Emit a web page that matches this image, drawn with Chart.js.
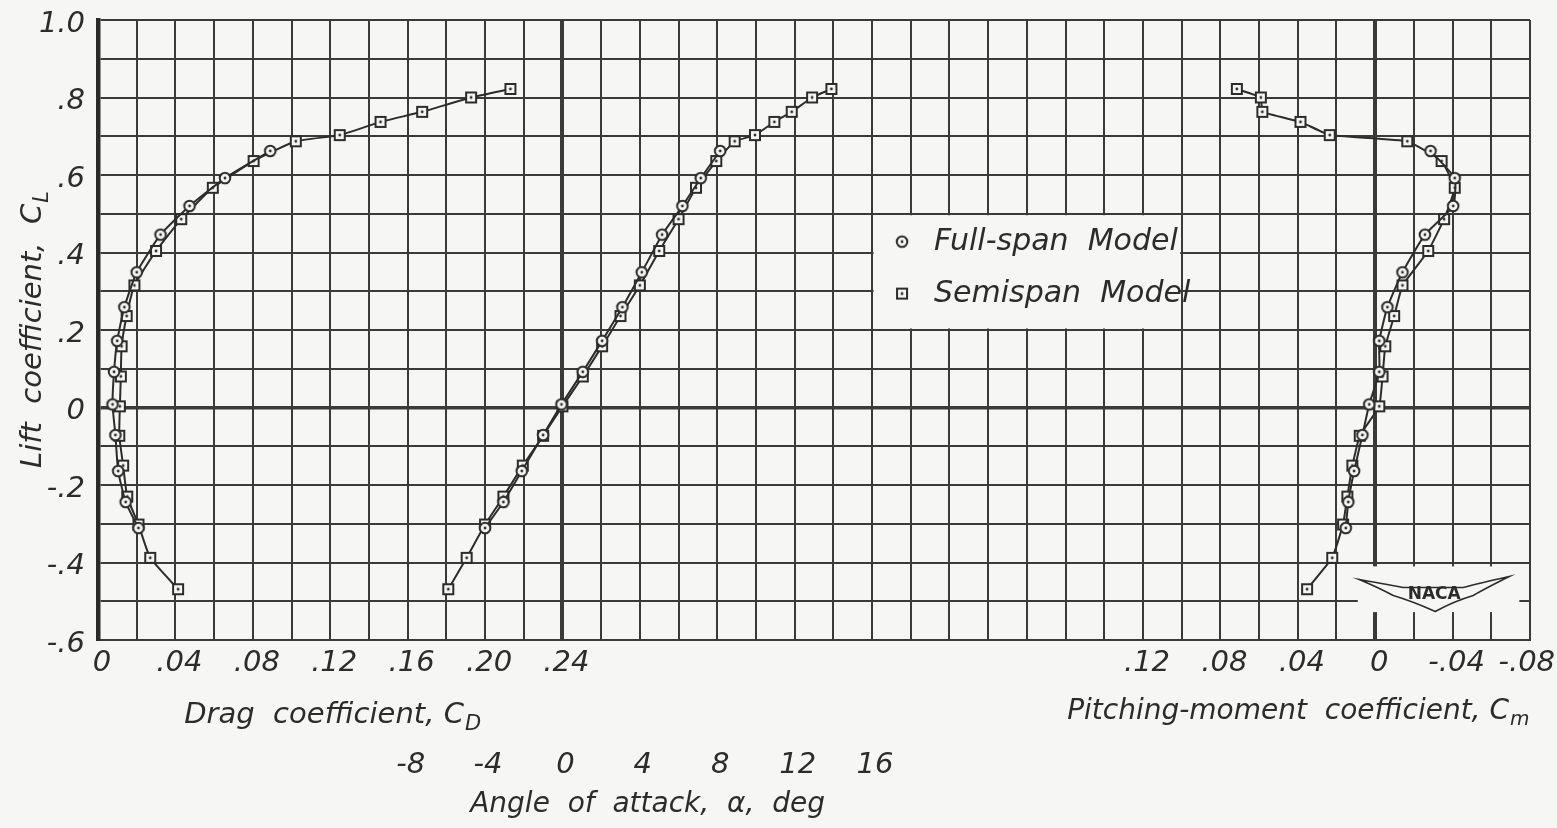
<!DOCTYPE html>
<html><head><meta charset="utf-8">
<script src="https://cdn.jsdelivr.net/npm/chart.js@4/dist/chart.umd.min.js"></script>
<style>html,body{margin:0;padding:0;background:#f6f6f4;overflow:hidden}</style>
</head><body>
<canvas id="c" width="1557" height="828"></canvas>
<script>
// ---------- DATA ----------
// Full-span model
const alphaFull = [-4.0,-3.05,-2.1,-1.0,-0.05,1.05,2.05,3.1,4.1,5.15,6.2,7.15,8.15];
const clFull    = [-0.311,-0.244,-0.164,-0.071,0.008,0.092,0.172,0.259,0.349,0.446,0.520,0.592,0.662];
const cdFull    = [0.0209,0.0143,0.0104,0.0090,0.0075,0.0083,0.0099,0.0136,0.0200,0.0323,0.0473,0.0656,0.0890];
const cmFull    = [0.0152,0.0139,0.0109,0.0066,0.0031,-0.0021,-0.0021,-0.0063,-0.0141,-0.0257,-0.0403,-0.0411,-0.0286];
// Semispan model
const alphaSemi = [-5.9,-4.95,-4.0,-3.05,-2.05,-1.0,0.0,1.05,2.05,3.0,4.0,5.0,6.0,6.9,7.95,8.9,9.95,10.95,11.85,12.9,13.9];
const clSemi    = [-0.469,-0.388,-0.302,-0.230,-0.150,-0.073,0.003,0.080,0.158,0.236,0.315,0.404,0.486,0.567,0.636,0.687,0.703,0.737,0.763,0.800,0.822];
const cdSemi    = [0.0414,0.0270,0.0209,0.0151,0.0130,0.0110,0.0113,0.0118,0.0122,0.0148,0.0188,0.0300,0.0430,0.0593,0.0804,0.1022,0.1249,0.1460,0.1675,0.1928,0.2131];
const cmSemi    = [0.0352,0.0222,0.0166,0.0144,0.0118,0.0080,-0.0021,-0.0038,-0.0052,-0.0098,-0.0141,-0.0274,-0.0356,-0.0411,-0.0343,-0.0166,0.0235,0.0386,0.0583,0.0591,0.0715];
// Tick labels
const clTicks    = [1.0,0.8,0.6,0.4,0.2,0,-0.2,-0.4,-0.6];
const cdTicks    = [0,0.04,0.08,0.12,0.16,0.20,0.24];
const cmTicks    = [0.12,0.08,0.04,0,-0.04,-0.08];
const alphaTicks = [-8,-4,0,4,8,12,16];
const seriesNames = ['Full-span  Model','Semispan  Model'];

// ---------- layout constants ----------
const CD_MAX = 0.74;       // right edge of grid in drag-coefficient units
const CD_ALPHA0 = 0.24;    // where alpha = 0 sits on the drag scale
const CD_CM0 = 0.66;       // where Cm = 0 sits on the drag scale
const INK = '#2c2c2c', GRID = '#3a3a3a', PAPER = '#f6f6f4';
const FONT = '"DejaVu Sans"';

function fmt(v, d){
  if (Math.abs(v) < 1e-9) return '0';
  let s = Math.abs(v).toFixed(d);
  if (s[0] === '0') s = s.slice(1);
  return (v < 0 ? '-' : '') + s;
}
function makeMarker(type){
  const c = document.createElement('canvas'); c.width = 16; c.height = 16;
  const g = c.getContext('2d');
  g.fillStyle = PAPER; g.strokeStyle = INK; g.lineWidth = 2;
  if (type === 'circle'){ g.beginPath(); g.arc(8,8,5.3,0,Math.PI*2); g.fill(); g.stroke(); }
  else { g.fillRect(3,3,10,10); g.strokeRect(3,3,10,10); }
  g.fillStyle = INK; g.beginPath(); g.arc(8,8,1.4,0,Math.PI*2); g.fill();
  return c;
}
const circ = makeMarker('circle'), sq = makeMarker('square');
const pts = (xs, ys) => xs.map((x,i) => ({x, y: ys[i]}));
function ds(data, axis, marker, tension){
  return {data, xAxisID: axis, yAxisID: 'y', showLine: true, borderColor: INK, borderWidth: 2,
    tension: tension, pointStyle: marker, pointRadius: 6, pointHoverRadius: 6, fill: false};
}

function drawSub(ctx, main, sub, cx, cy, size){
  ctx.font = `italic ${size}px ${FONT}`; const w1 = ctx.measureText(main).width;
  ctx.font = `italic ${Math.round(size*0.72)}px ${FONT}`; const w2 = ctx.measureText(sub).width;
  const x0 = cx - (w1 + w2) / 2, base = cy + size*0.36;
  ctx.textAlign = 'left'; ctx.textBaseline = 'alphabetic';
  ctx.font = `italic ${size}px ${FONT}`; ctx.fillText(main, x0, base);
  ctx.font = `italic ${Math.round(size*0.72)}px ${FONT}`; ctx.fillText(sub, x0 + w1 + 1, base + size*0.22);
}

const decor = {
  id: 'decor',
  beforeDatasetsDraw(chart){
    const {ctx, scales:{x, y}} = chart;
    ctx.save(); ctx.fillStyle = PAPER;
    // legend panel (blank grid cells)
    const lx0 = x.getPixelForValue(0.40) + 1.5, lx1 = x.getPixelForValue(0.56) - 1.5;
    const ly0 = y.getPixelForValue(0.5) + 1.5, ly1 = y.getPixelForValue(0.2) - 1.5;
    ctx.fillRect(lx0, ly0, lx1 - lx0, ly1 - ly0);
    // logo panel
    const gx0 = x.getPixelForValue(0.651), gx1 = x.getPixelForValue(0.7345);
    const gy0 = y.getPixelForValue(-0.41), gy1 = y.getPixelForValue(-0.528);
    ctx.fillRect(gx0, gy0, gx1 - gx0, gy1 - gy0);
    ctx.restore();
  },
  afterDraw(chart){
    const {ctx, chartArea: ca, scales:{x, y, xa, xm}} = chart;
    ctx.save(); ctx.fillStyle = INK;
    // axis titles
    drawSub(ctx, 'Drag  coefficient, C', 'D', x.getPixelForValue(0.121), ca.bottom + 73, 29);
    drawSub(ctx, 'Pitching-moment  coefficient, C', 'm', xm.getPixelForValue(0.040), ca.bottom + 69, 28);
    ctx.font = `italic 28px ${FONT}`; ctx.textAlign = 'center'; ctx.textBaseline = 'middle';
    ctx.fillText('Angle  of  attack,  α,  deg', xa.getPixelForValue(4.4), 805);
    ctx.save(); ctx.translate(31, y.getPixelForValue(0.2)); ctx.rotate(-Math.PI/2);
    drawSub(ctx, 'Lift  coefficient,  C', 'L', 0, 0, 29);
    ctx.restore();
    // legend
    const lx = x.getPixelForValue(0.4155), tx = x.getPixelForValue(0.432);
    const rows = [y.getPixelForValue(0.428), y.getPixelForValue(0.294)];
    [circ, sq].forEach((m, i) => {
      ctx.drawImage(m, lx - 8, rows[i] - 8);
      ctx.font = `italic 30px ${FONT}`; ctx.textAlign = 'left'; ctx.textBaseline = 'middle';
      ctx.fillText(seriesNames[i], tx, rows[i] + 1);
    });
    // NACA emblem
    const cx = xm.getPixelForValue(-0.03), cy = y.getPixelForValue(-0.48);
    ctx.strokeStyle = INK; ctx.lineWidth = 1.6; ctx.fillStyle = PAPER;
    ctx.beginPath();
    ctx.moveTo(cx - 74, cy - 14);
    ctx.quadraticCurveTo(cx - 40, cy - 8, cx - 30, cy - 6);
    ctx.lineTo(cx + 30, cy - 6);
    ctx.quadraticCurveTo(cx + 45, cy - 10, cx + 76, cy - 17);
    ctx.quadraticCurveTo(cx + 50, cy - 4, cx + 40, cy + 2);
    ctx.quadraticCurveTo(cx + 20, cy + 8, cx + 2, cy + 18);
    ctx.quadraticCurveTo(cx - 20, cy + 8, cx - 40, cy + 2);
    ctx.quadraticCurveTo(cx - 55, cy - 6, cx - 74, cy - 14);
    ctx.closePath(); ctx.fill(); ctx.stroke();
    ctx.fillStyle = INK; ctx.font = `bold 17px ${FONT}`; ctx.textAlign = 'center'; ctx.textBaseline = 'middle';
    ctx.fillText('NACA', cx + 1, cy + 1);
    ctx.restore();
  }
};

const tickFont = {family: 'DejaVu Sans', size: 29, style: 'italic'};
new Chart(document.getElementById('c'), {
  type: 'scatter',
  data: { datasets: [
    ds(pts(cdFull, clFull), 'x', circ, 0.15),
    ds(pts(cdSemi, clSemi), 'x', sq, 0.15),
    ds(pts(alphaFull, clFull), 'xa', circ, 0.1),
    ds(pts(alphaSemi, clSemi), 'xa', sq, 0.1),
    ds(pts(cmFull, clFull), 'xm', circ, 0.15),
    ds(pts(cmSemi, clSemi), 'xm', sq, 0.1)
  ]},
  options: {
    responsive: false, animation: false, devicePixelRatio: 1,
    layout: {padding: {top: 20, right: 27, bottom: 28, left: 0}},
    plugins: {legend: {display: false}, tooltip: {enabled: false}},
    scales: {
      x: {
        type: 'linear', position: 'bottom', weight: 0, min: 0, max: CD_MAX,
        afterFit: s => { s.height = 100; s.paddingLeft = 0; s.paddingRight = 0; },
        grid: {color: GRID, drawTicks: false,
          lineWidth: c => { const n = Math.round(c.tick.value*100);
            return (n === Math.round(CD_ALPHA0*100) || n === Math.round(CD_CM0*100)) ? 4 : 2; }},
        border: {display: true, color: GRID, width: 2},
        ticks: {stepSize: 0.02, autoSkip: false, maxRotation: 0, minRotation: 0, padding: 6, labelOffset: 4,
          color: INK, font: tickFont,
          callback: v => {
            const n = Math.round(v*100);
            if (cdTicks.some(t => Math.round(t*100) === n)) return fmt(v, 2);
            const cm = Math.round((CD_CM0*100 - n)) / 100;
            if (n > 50 && cmTicks.some(t => Math.round(t*100) === Math.round(cm*100))) {
              // keep the last label inside the page
              return n === Math.round(CD_MAX*100) ? fmt(cm, 2) + '\u2002' : fmt(cm, 2);
            }
            return '';
          }}
      },
      xa: {
        type: 'linear', position: 'bottom', weight: 1,
        min: (0 - CD_ALPHA0) * 100, max: (CD_MAX - CD_ALPHA0) * 100,
        afterBuildTicks: s => { s.ticks = alphaTicks.map(v => ({value: v})); },
        afterFit: s => { s.height = 60; s.paddingLeft = 0; s.paddingRight = 0; },
        grid: {display: false, drawTicks: false}, border: {display: false},
        ticks: {autoSkip: false, maxRotation: 0, minRotation: 0, padding: 8, labelOffset: 3, color: INK, font: tickFont,
          callback: v => String(v)}
      },
      xm: {
        type: 'linear', display: false, reverse: true,
        min: CD_CM0 - CD_MAX, max: CD_CM0 - 0
      },
      y: {
        type: 'linear', position: 'left', min: -0.6, max: 1.0,
        afterFit: s => { s.width = 98; s.paddingTop = 0; s.paddingBottom = 0; },
        grid: {color: GRID, drawTicks: false,
          lineWidth: c => Math.round(c.tick.value*10) === 0 ? 3.5 : 2},
        border: {display: true, color: '#2a2a2a', width: 4.5},
        ticks: {stepSize: 0.1, autoSkip: false, padding: 13, labelOffset: 4, color: INK, font: tickFont,
          callback: v => clTicks.some(t => Math.round(t*10) === Math.round(v*10)) ? fmt(v, 1) : ''}
      }
    }
  },
  plugins: [decor]
});
</script>
</body></html>
